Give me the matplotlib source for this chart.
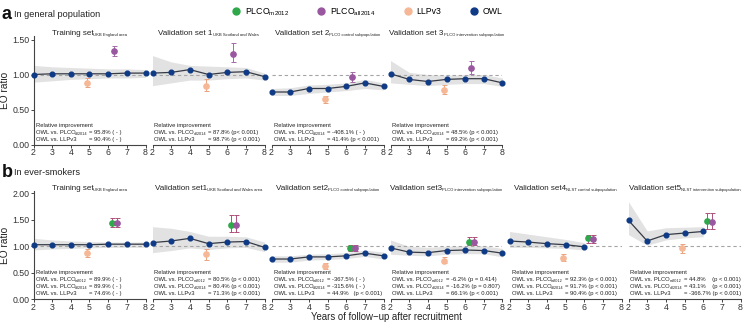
import numpy as np
import matplotlib
matplotlib.use('Agg')
import matplotlib.pyplot as plt
from matplotlib.lines import Line2D

plt.rcParams['font.family'] = ['Liberation Sans', 'DejaVu Sans']
plt.rcParams['mathtext.fontset'] = 'custom'
plt.rcParams['mathtext.rm'] = 'Liberation Sans'
plt.rcParams['mathtext.it'] = 'Liberation Sans'
plt.rcParams['mathtext.default'] = 'regular'

W, H = 743, 323
years = [2, 3, 4, 5, 6, 7, 8]

c_m2012 = '#2ea84a'
c_all2014 = '#99579f'
c_llp = '#f6b796'
c_owl = '#0f3a86'

# ---------- (a) general population ----------
a_titles = ['Training set', 'Validation set 1', 'Validation set 2', 'Validation set 3']
a_subs = ['UKB England area', 'UKB Scotland and Wales', 'PLCO control subpopulation',
          'PLCO intervention subpopulation']
a_owl = [[1.00, 1.01, 1.01, 1.01, 1.01, 1.02, 1.02],
         [1.02, 1.03, 1.07, 1.00, 1.03, 1.04, 0.97],
         [0.75, 0.75, 0.80, 0.80, 0.83, 0.88, 0.83],
         [1.01, 0.93, 0.90, 0.93, 0.94, 0.94, 0.88]]
a_lo = [[0.89, 0.91, 0.93, 0.94, 0.95, 0.95, 0.96],
        [0.84, 0.88, 0.92, 0.92, 0.94, 0.95, 0.92],
        [0.70, 0.70, 0.73, 0.75, 0.77, 0.80, 0.78],
        [0.88, 0.86, 0.84, 0.86, 0.87, 0.87, 0.83]]
a_hi = [[1.13, 1.11, 1.10, 1.09, 1.08, 1.08, 1.07],
        [1.27, 1.18, 1.13, 1.12, 1.11, 1.10, 1.02],
        [0.80, 0.81, 0.85, 0.86, 0.88, 0.93, 0.88],
        [1.20, 1.03, 1.00, 0.99, 1.00, 1.00, 0.95]]
a_llp = [0.88, 0.84, 0.65, 0.78]
a_llp_lo = [0.82, 0.76, 0.60, 0.72]
a_llp_hi = [0.95, 0.93, 0.70, 0.85]
a_all = [1.33, 1.30, 0.96, 1.10]
a_all_lo = [1.26, 1.18, 0.90, 1.01]
a_all_hi = [1.41, 1.45, 1.04, 1.20]
a_rows = [[('PLCO', 'all2014', '= 95.8% ( - )'), ('LLPv3', '', '= 90.4% ( - )')],
          [('PLCO', 'all2014', '= 87.8% (p< 0.001)'), ('LLPv3', '', '= 98.7% (p < 0.001)')],
          [('PLCO', 'all2014', '= -408.1% ( - )'), ('LLPv3', '', '= 41.4% (p < 0.001)')],
          [('PLCO', 'all2014', '= 48.5% (p < 0.001)'), ('LLPv3', '', '= 69.2% (p < 0.001)')]]

# ---------- (b) ever-smokers ----------
b_titles = ['Training set', 'Validation set1', 'Validation set2', 'Validation set3',
            'Validation set4', 'Validation set5']
b_subs = ['UKB England area', 'UKB Scotland and Wales area', 'PLCO control subpopulation',
          'PLCO intervention subpopulation', 'NLST control subpopulation',
          'NLST intervention subpopulation']
b_owl = [[1.03, 1.03, 1.03, 1.03, 1.04, 1.04, 1.04],
         [1.07, 1.10, 1.15, 1.05, 1.08, 1.09, 0.98],
         [0.76, 0.76, 0.80, 0.80, 0.82, 0.87, 0.82],
         [0.97, 0.89, 0.88, 0.92, 0.93, 0.92, 0.87],
         [1.10, 1.08, 1.05, 1.03, 0.99],
         [1.49, 1.10, 1.22, 1.25, 1.28]]
b_lo = [[0.93, 0.95, 0.96, 0.97, 0.98, 0.98, 0.98],
        [0.88, 0.92, 0.97, 0.94, 0.97, 0.98, 0.90],
        [0.70, 0.70, 0.74, 0.75, 0.77, 0.81, 0.76],
        [0.85, 0.83, 0.82, 0.85, 0.86, 0.86, 0.80],
        [0.98, 0.98, 0.97, 0.96, 0.93],
        [1.22, 1.02, 1.12, 1.16, 1.18]]
b_hi = [[1.15, 1.12, 1.10, 1.09, 1.08, 1.08, 1.08],
        [1.37, 1.34, 1.28, 1.19, 1.19, 1.18, 1.08],
        [0.82, 0.82, 0.85, 0.86, 0.88, 0.93, 0.89],
        [1.12, 1.00, 0.98, 1.00, 1.01, 1.01, 0.96],
        [1.28, 1.23, 1.18, 1.13, 1.07],
        [1.84, 1.29, 1.35, 1.36, 1.37]]
b_llp = [0.87, 0.85, 0.63, 0.73, 0.78, 0.96]
b_llp_lo = [0.80, 0.75, 0.58, 0.68, 0.72, 0.88]
b_llp_hi = [0.95, 0.95, 0.68, 0.80, 0.85, 1.04]
b_m2012 = [1.44, 1.41, 0.97, 1.09, 1.15, 1.47]
b_all = [1.44, 1.41, 0.97, 1.09, 1.14, 1.46]
b_plco_lo = [1.36, 1.27, 0.92, 1.02, 1.07, 1.32]
b_plco_hi = [1.53, 1.60, 1.03, 1.17, 1.22, 1.63]
b_rows = [[('PLCO', 'm2012', '= 89.9% ( - )'), ('PLCO', 'all2014', '= 89.9% ( - )'),
           ('LLPv3', '', '= 74.6% ( - )')],
          [('PLCO', 'm2012', '= 80.5% (p < 0.001)'), ('PLCO', 'all2014', '= 80.4% (p < 0.001)'),
           ('LLPv3', '', '= 71.3% (p < 0.001)')],
          [('PLCO', 'm2012', '= -367.5% ( - )'), ('PLCO', 'all2014', '= -315.6% ( - )'),
           ('LLPv3', '', '= 44.9%   (p < 0.001)')],
          [('PLCO', 'm2012', '= -6.2% (p = 0.414)'), ('PLCO', 'all2014', '= -16.2% (p = 0.807)'),
           ('LLPv3', '', '= 66.1% (p < 0.001)')],
          [('PLCO', 'm2012', '= 92.3% (p < 0.001)'), ('PLCO', 'all2014', '= 91.7% (p < 0.001)'),
           ('LLPv3', '', '= 90.4% (p < 0.001)')],
          [('PLCO', 'm2012', '= 44.8%    (p < 0.001)'), ('PLCO', 'all2014', '= 43.1%    (p < 0.001)'),
           ('LLPv3', '', '= -366.7% (p < 0.001)')]]

fig = plt.figure(figsize=(W / 100, H / 100), dpi=100)
r = fig.canvas.get_renderer()

ANN = 4.25


def px_text(x, y, s, size, **kw):
    # x, y in pixels, y measured from the top
    return fig.text(x / W, 1 - y / H, s, fontsize=size, **kw)


def compound(x, y, parts, ha='left'):
    # parts: (string, fontsize, drop in px); y is the baseline from the top
    widths = []
    for s, size, dy in parts:
        t = fig.text(0, 0, s, fontsize=size)
        widths.append(t.get_window_extent(r).width)
        t.remove()
    if ha == 'center':
        x -= sum(widths) / 2
    for (s, size, dy), w in zip(parts, widths):
        px_text(x, y + dy, s, size, va='baseline', color='#222222')
        x += w
    return x


def make_axes(left, y0, ymax, ppu):
    h = ymax * ppu
    ax = fig.add_axes([left / W, 1 - y0 / H, 112 / W, h / H])
    ax.set_xlim(2, 8)
    ax.set_ylim(0, ymax)
    ax.set_xticks(years)
    for s in ['top', 'right']:
        ax.spines[s].set_visible(False)
    for s in ['left', 'bottom']:
        ax.spines[s].set_color('#444444')
        ax.spines[s].set_linewidth(0.8)
    ax.tick_params(labelsize=6.3, length=2, width=0.7, color='#444444', pad=0.8,
                   labelcolor='#333333')
    return ax


def draw_owl(ax, owl, lo, hi):
    x = years[:len(owl)]
    ax.fill_between(x, lo, hi, color='#e2e2e2', lw=0, zorder=1)
    ax.plot([2, 8], [1, 1], ls=(0, (3, 2.5)), color='#a5a5a5', lw=0.8, zorder=2)
    ax.plot(x, owl, '-', color='#353a45', lw=0.9, zorder=3)
    ax.plot(x, owl, 'o', color=c_owl, ms=3.4, zorder=4, clip_on=False)


def err_point(ax, x, v, lo, hi, col, ecol):
    ax.errorbar(x, v, yerr=[[v - lo], [hi - v]], fmt='o', color=col, ms=3.8,
                ecolor=ecol, elinewidth=0.7, capsize=1.8, capthick=0.7, zorder=5)


def annotate_rows(left, base, rows):
    x0 = left + 2
    px_text(x0, base, 'Relative improvement', ANN, va='baseline', color='#222222')
    ends = []
    for k, (name, sub, val) in enumerate(rows):
        y = base + 7 * (k + 1)
        parts = [('OWL vs. ' + name, ANN, 0)]
        if sub:
            parts.append((sub, 2.8, 1.2))
        ends.append((y, compound(x0, y, parts), val))
    col = max(e[1] for e in ends) + 1.0
    for y, _, val in ends:
        px_text(col, y, val, ANN, va='baseline', color='#222222')


lefts = [33.5 + i * 119 for i in range(6)]

# row a
for i in range(4):
    ax = make_axes(lefts[i], 144.5, 1.55, 70)
    ax.set_yticks([0, 0.5, 1.0, 1.5])
    ax.set_yticklabels(['0.00', '0.50', '1.00', '1.50'])
    draw_owl(ax, a_owl[i], a_lo[i], a_hi[i])
    err_point(ax, 4.85, a_llp[i], a_llp_lo[i], a_llp_hi[i], c_llp, '#e9a27f')
    err_point(ax, 6.3, a_all[i], a_all_lo[i], a_all_hi[i], c_all2014, '#a46aa9')
    if i > 0:
        ax.spines['left'].set_visible(False)
        ax.tick_params(left=False, labelleft=False)
    compound(lefts[i] + 56, 35, [(a_titles[i], 5.8, 0), (a_subs[i], 3.0, 1.0)], ha='center')
    annotate_rows(lefts[i], 127, a_rows[i])

# row b
for i in range(6):
    ax = make_axes(lefts[i], 299.3, 2.05, 53)
    ax.set_yticks([0, 0.5, 1.0, 1.5, 2.0])
    ax.set_yticklabels(['0.00', '0.50', '1.00', '1.50', '2.00'])
    draw_owl(ax, b_owl[i], b_lo[i], b_hi[i])
    err_point(ax, 4.85, b_llp[i], b_llp_lo[i], b_llp_hi[i], c_llp, '#e9a27f')
    err_point(ax, 6.2, b_m2012[i], b_plco_lo[i], b_plco_hi[i], c_m2012, '#b0507a')
    err_point(ax, 6.45, b_all[i], b_plco_lo[i], b_plco_hi[i], c_all2014, '#b0507a')
    if i > 0:
        ax.spines['left'].set_visible(False)
        ax.tick_params(left=False, labelleft=False)
    compound(lefts[i] + 56, 190, [(b_titles[i], 5.8, 0), (b_subs[i], 3.0, 1.0)], ha='center')
    annotate_rows(lefts[i], 274, b_rows[i])

# panel letters
px_text(2, 19, 'a', 13, fontweight='bold', va='baseline', color='#111111')
px_text(14, 17, 'In general population', 6.6, va='baseline', color='#222222')
px_text(2, 177, 'b', 13, fontweight='bold', va='baseline', color='#111111')
px_text(14, 175, 'In ever-smokers', 6.6, va='baseline', color='#222222')

px_text(5.5, 90, 'EO ratio', 7.3, rotation=90, ha='center', va='center', color='#222222')
px_text(5.5, 245, 'EO ratio', 7.3, rotation=90, ha='center', va='center', color='#222222')
px_text(386, 317, 'Years of follow\u2212up after recruitment', 6.9, ha='center', va='center',
        color='#222222')

handles = [Line2D([], [], ls='', marker='o', ms=5, color=c) for c in
           [c_m2012, c_all2014, c_llp, c_owl]]
labels = ['PLCO$_{m2012}$', 'PLCO$_{all2014}$', 'LLPv3', 'OWL']
fig.legend(handles, labels, loc='center', bbox_to_anchor=(367 / W, 1 - 12 / H), ncol=4,
           frameon=False, fontsize=6.3, handletextpad=0.5, columnspacing=3.2,
           handlelength=1.0)

fig.savefig('out.png', dpi=100)
